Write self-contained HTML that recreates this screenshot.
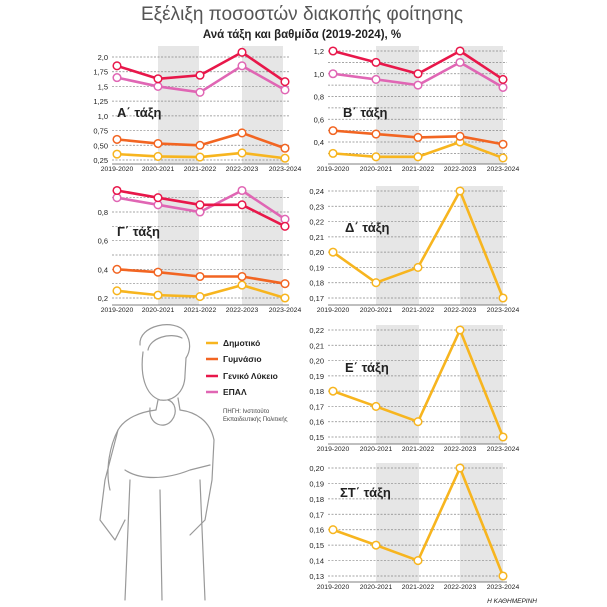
<!DOCTYPE html>
<html><head><meta charset="utf-8"><style>
body{margin:0;background:#fff;}
svg{display:block;font-family:"Liberation Sans","DejaVu Sans",sans-serif;}
</style></head><body>
<svg id="s" width="607" height="607" viewBox="0 0 607 607" xmlns="http://www.w3.org/2000/svg">
<text x="302" y="20" text-anchor="middle" font-size="19" fill="#555">Εξέλιξη ποσοστών διακοπής φοίτησης</text>
<text x="302" y="38" text-anchor="middle" font-size="11.5" font-weight="bold" fill="#222">Ανά τάξη και βαθμίδα (2019-2024), %</text>
<g id="g"></g>
<g fill="none" stroke="#999" stroke-width="1.2" stroke-linejoin="round" stroke-linecap="round">
<path d="M140 345 C138 325 175 318 185 332 C192 342 190 352 186 358"/>
<path d="M148 350 C150 338 170 332 182 338"/>
<path d="M143 352 C140 375 145 395 160 400 C175 402 185 390 185 375 L186 358"/>
<path d="M158 400 L156 410 M178 398 L180 410"/>
<path d="M156 410 C140 412 125 418 118 430 L105 480 L100 520 L115 540 L125 520"/>
<path d="M180 410 C195 412 210 420 214 440 L212 480 L205 520 L190 535"/>
<path d="M150 408 C148 425 165 430 172 420 C178 412 175 402 168 400"/>
<path d="M125 470 C140 480 165 480 190 470 L210 465"/>
<path d="M130 480 L125 600 M200 480 L205 600"/>
<path d="M160 490 L162 600"/>
<path d="M118 430 C110 445 105 470 110 490"/>
</g>
<g font-size="8.5" fill="#222" font-weight="bold">
<line x1="206" y1="343" x2="218" y2="343" stroke="#f7b51f" stroke-width="2.5"/><text x="223" y="346">Δημοτικό</text>
<line x1="206" y1="359" x2="218" y2="359" stroke="#f26522" stroke-width="2.5"/><text x="223" y="362">Γυμνάσιο</text>
<line x1="206" y1="376" x2="218" y2="376" stroke="#e8174a" stroke-width="2.5"/><text x="223" y="379">Γενικό Λύκειο</text>
<line x1="206" y1="392" x2="218" y2="392" stroke="#e066b4" stroke-width="2.5"/><text x="223" y="395">ΕΠΑΛ</text>
</g>
<text x="223" y="413" font-size="6" fill="#444">ΠΗΓΗ: Ινστιτούτο</text>
<text x="223" y="421" font-size="6" fill="#444">Εκπαιδευτικής Πολιτικής</text>
<text x="537" y="603" text-anchor="end" font-size="6.5" fill="#222" font-style="italic">Η ΚΑΘΗΜΕΡΙΝΗ</text>
</svg>
<script>
var C={d:"#f7b51f",g:"#f26522",l:"#e8174a",e:"#e066b4"};
var NS="http://www.w3.org/2000/svg",G=document.getElementById("g");
function el(t,a,txt){var e=document.createElementNS(NS,t);for(var k in a)e.setAttribute(k,a[k]);if(txt)e.textContent=txt;G.appendChild(e);return e;}
var cats=["2019-2020","2020-2021","2021-2022","2022-2023","2023-2024"];
function panel(p){
 var xs=p.xs,y=function(v){return p.y0+(v-p.v0)*(p.y1-p.y0)/(p.v1-p.v0);};
 var step=xs[1]-xs[0];
 el("rect",{x:xs[1],y:p.bt,width:step,height:p.bb-p.bt,fill:"#e6e6e6"});
 el("rect",{x:xs[3],y:p.bt,width:step,height:p.bb-p.bt,fill:"#e6e6e6"});
 p.ticks.forEach(function(t){var yy=y(t[0]);
  el("line",{x1:xs[0]-5,x2:xs[4]+4,y1:yy,y2:yy,stroke:"#888","stroke-width":0.7,"stroke-dasharray":"2,1.5"});
  el("text",{x:xs[0]-9,y:yy+3,"text-anchor":"end","font-size":7.5,fill:"#222"},t[1]);});
 el("line",{x1:xs[0]-5,x2:xs[4]+4,y1:p.bb,y2:p.bb,stroke:"#555","stroke-width":0.8});
 xs.forEach(function(x,i){el("text",{x:x,y:p.bb+7,"text-anchor":"middle","font-size":6.8,fill:"#222"},cats[i]);});
 el("text",{x:p.tx,y:p.ty,"font-size":13,"font-weight":"bold",fill:"#222"},p.title);
 p.series.forEach(function(s){
  var pts=s[1].map(function(v,i){return xs[i]+","+y(v);}).join(" ");
  el("polyline",{points:pts,fill:"none",stroke:C[s[0]],"stroke-width":2.6,"stroke-linejoin":"round"});
  s[1].forEach(function(v,i){el("circle",{cx:xs[i],cy:y(v),r:3.8,fill:"#fff",stroke:C[s[0]],"stroke-width":1.5});});
 });
}
var XL=[117,158,200,242,285],XR=[333,376,418,460,503];
panel({xs:XL,v0:2.0,y0:57,v1:0.25,y1:160,bt:46,bb:164,tx:117,ty:117,title:"Α΄ τάξη",
 ticks:[[2,"2,0"],[1.75,"1,75"],[1.5,"1,5"],[1.25,"1,25"],[1,"1,0"],[0.75,"0,75"],[0.5,"0,50"],[0.25,"0,25"]],
 series:[["d",[.35,.31,.30,.37,.28]],["g",[.6,.53,.5,.71,.45]],["e",[1.65,1.5,1.4,1.85,1.44]],["l",[1.85,1.63,1.69,2.08,1.58]]]});
panel({xs:XR,v0:1.2,y0:51,v1:0.4,y1:142,bt:46,bb:164,tx:343,ty:117,title:"Β΄ τάξη",
 ticks:[[1.2,"1,2"],[1.1,""],[1.0,"1,0"],[0.9,""],[0.8,"0,8"],[0.7,""],[0.6,"0,6"],[0.5,""],[0.4,"0,4"],[0.3,""]],
 series:[["d",[.3,.27,.27,.4,.26]],["g",[.5,.47,.44,.45,.38]],["e",[1.0,.95,.9,1.1,.88]],["l",[1.2,1.1,1.0,1.2,.95]]]});
panel({xs:XL,v0:0.8,y0:212,v1:0.2,y1:298,bt:190,bb:305,tx:117,ty:236,title:"Γ΄ τάξη",
 ticks:[[0.9,""],[0.8,"0,8"],[0.7,""],[0.6,"0,6"],[0.5,""],[0.4,"0,4"],[0.3,""],[0.2,"0,2"]],
 series:[["d",[.25,.22,.21,.29,.2]],["g",[.4,.38,.35,.35,.3]],["e",[.9,.85,.8,.95,.75]],["l",[.95,.9,.85,.85,.7]]]});
function tk(a,b){var r=[];for(var v=a;v>=b-1e-9;v-=0.01)r.push([v,v.toFixed(2).replace(".",",")]);return r;}
panel({xs:XR,v0:0.24,y0:191,v1:0.17,y1:298,bt:186,bb:305,tx:345,ty:232,title:"Δ΄ τάξη",
 ticks:tk(0.24,0.17),series:[["d",[.2,.18,.19,.24,.17]]]});
panel({xs:XR,v0:0.22,y0:330,v1:0.15,y1:437,bt:325,bb:444,tx:345,ty:372,title:"Ε΄ τάξη",
 ticks:tk(0.22,0.15),series:[["d",[.18,.17,.16,.22,.15]]]});
panel({xs:XR,v0:0.20,y0:468,v1:0.13,y1:576,bt:463,bb:582,tx:340,ty:497,title:"ΣΤ΄ τάξη",
 ticks:tk(0.20,0.13),series:[["d",[.16,.15,.14,.2,.13]]]});
</script>
</body></html>
